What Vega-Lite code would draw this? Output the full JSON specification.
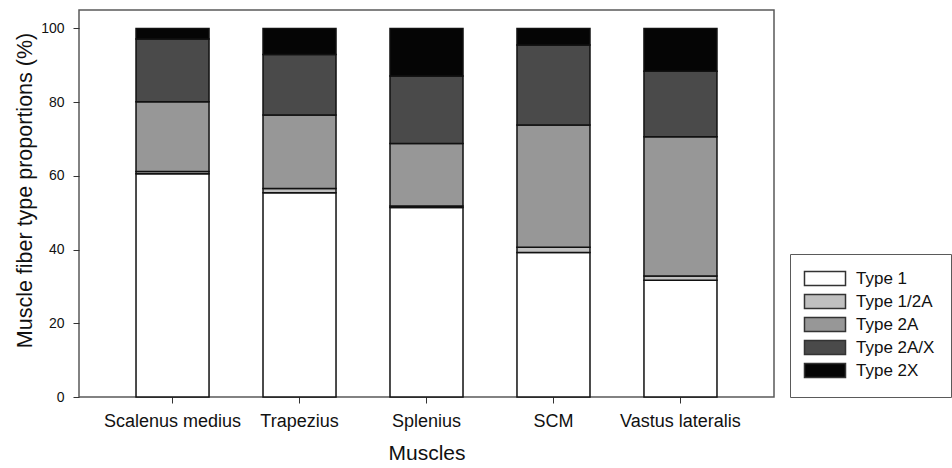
{
  "$schema": "https://vega.github.io/schema/vega-lite/v6.json",
  "width": 695,
  "height": 387,
  "autosize": {"type": "none"},
  "padding": {"left": 79, "top": 10, "right": 178, "bottom": 71},
  "background": "white",
  "config": {
    "font": "Liberation Sans",
    "view": {"stroke": "#5a5a5a", "strokeWidth": 1.5}
  },
  "data": {
    "values": [
      {"muscle": "Scalenus medius", "type": "Type 1", "order": 1, "pct": 60.6},
      {"muscle": "Scalenus medius", "type": "Type 1/2A", "order": 2, "pct": 0.6},
      {"muscle": "Scalenus medius", "type": "Type 2A", "order": 3, "pct": 18.9},
      {"muscle": "Scalenus medius", "type": "Type 2A/X", "order": 4, "pct": 17.0},
      {"muscle": "Scalenus medius", "type": "Type 2X", "order": 5, "pct": 2.9},
      {"muscle": "Trapezius", "type": "Type 1", "order": 1, "pct": 55.4},
      {"muscle": "Trapezius", "type": "Type 1/2A", "order": 2, "pct": 1.2},
      {"muscle": "Trapezius", "type": "Type 2A", "order": 3, "pct": 19.9},
      {"muscle": "Trapezius", "type": "Type 2A/X", "order": 4, "pct": 16.4},
      {"muscle": "Trapezius", "type": "Type 2X", "order": 5, "pct": 7.1},
      {"muscle": "Splenius", "type": "Type 1", "order": 1, "pct": 51.4},
      {"muscle": "Splenius", "type": "Type 1/2A", "order": 2, "pct": 0.4},
      {"muscle": "Splenius", "type": "Type 2A", "order": 3, "pct": 17.0},
      {"muscle": "Splenius", "type": "Type 2A/X", "order": 4, "pct": 18.3},
      {"muscle": "Splenius", "type": "Type 2X", "order": 5, "pct": 12.9},
      {"muscle": "SCM", "type": "Type 1", "order": 1, "pct": 39.2},
      {"muscle": "SCM", "type": "Type 1/2A", "order": 2, "pct": 1.4},
      {"muscle": "SCM", "type": "Type 2A", "order": 3, "pct": 33.2},
      {"muscle": "SCM", "type": "Type 2A/X", "order": 4, "pct": 21.7},
      {"muscle": "SCM", "type": "Type 2X", "order": 5, "pct": 4.5},
      {"muscle": "Vastus lateralis", "type": "Type 1", "order": 1, "pct": 31.7},
      {"muscle": "Vastus lateralis", "type": "Type 1/2A", "order": 2, "pct": 1.1},
      {"muscle": "Vastus lateralis", "type": "Type 2A", "order": 3, "pct": 37.8},
      {"muscle": "Vastus lateralis", "type": "Type 2A/X", "order": 4, "pct": 17.8},
      {"muscle": "Vastus lateralis", "type": "Type 2X", "order": 5, "pct": 11.6}
    ]
  },
  "mark": {"type": "bar", "stroke": "#111111", "strokeWidth": 1.5},
  "encoding": {
    "x": {
      "field": "muscle",
      "type": "nominal",
      "sort": ["Scalenus medius", "Trapezius", "Splenius", "SCM", "Vastus lateralis"],
      "scale": {"paddingInner": 0.425, "paddingOuter": 0.449},
      "axis": {
        "title": "Muscles",
        "titleFontSize": 21,
        "titleFontWeight": "normal",
        "titleColor": "#111111",
        "titlePadding": 12,
        "labelAngle": 0,
        "labelFontSize": 18,
        "labelColor": "#111111",
        "labelPadding": 9,
        "tickSize": 6,
        "tickColor": "#333333",
        "domain": false
      }
    },
    "y": {
      "field": "pct",
      "type": "quantitative",
      "stack": "zero",
      "scale": {"domain": [0, 105], "nice": false},
      "axis": {
        "title": "Muscle fiber type proportions (%)",
        "values": [0, 20, 40, 60, 80, 100],
        "titleFontSize": 21.5,
        "titleFontWeight": "normal",
        "titleColor": "#111111",
        "titlePadding": 4,
        "titleY": 180,
        "labelFontSize": 14,
        "labelColor": "#111111",
        "labelPadding": 9,
        "tickSize": 6,
        "tickColor": "#333333",
        "grid": false,
        "domain": false
      }
    },
    "order": {"field": "order", "type": "quantitative"},
    "fill": {
      "field": "type",
      "type": "nominal",
      "scale": {
        "domain": ["Type 1", "Type 1/2A", "Type 2A", "Type 2A/X", "Type 2X"],
        "range": ["#ffffff", "#c0c0c0", "#979797", "#4a4a4a", "#050505"]
      },
      "legend": {
        "title": null,
        "orient": "none",
        "legendX": 711,
        "legendY": 244,
        "symbolType": "M-1.43,-1L4.43,-1L4.43,1L-1.43,1Z",
        "symbolSize": 196,
        "symbolStrokeColor": "#333333",
        "symbolStrokeWidth": 1.5,
        "labelFontSize": 17,
        "labelColor": "#111111",
        "labelOffset": 33,
        "rowPadding": 2,
        "padding": 16,
        "strokeColor": "#5a5a5a",
        "fillColor": "white"
      }
    }
  }
}
